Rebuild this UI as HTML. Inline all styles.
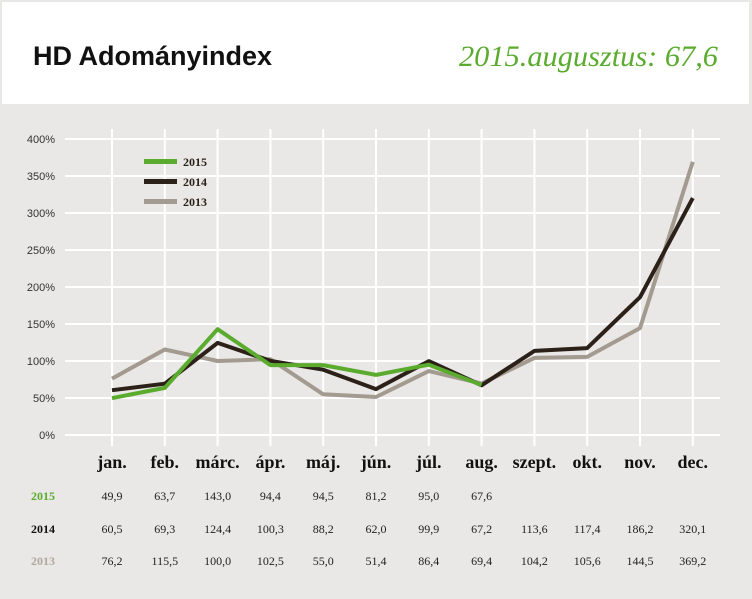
<!DOCTYPE html>
<html><head><meta charset="utf-8"><style>
html,body{margin:0;padding:0;background:#e9e8e6;}
</style></head><body>
<svg width="752" height="599" xmlns="http://www.w3.org/2000/svg" style="display:block">
<rect x="0" y="0" width="752" height="599" fill="#e9e8e6"/>
<rect x="2" y="2" width="747" height="102" fill="#fff"/>
<text x="33" y="65" font-family="Liberation Sans, sans-serif" font-size="27" font-weight="bold" fill="#111">HD Adományindex</text>
<text x="459" y="66" textLength="259" lengthAdjust="spacingAndGlyphs" font-family="Liberation Serif, serif" font-style="italic" font-size="30" fill="#5aab2e">2015.augusztus: 67,6</text>
<g stroke="#fff" stroke-width="2">
<line x1="65" x2="720" y1="139" y2="139"/><line x1="65" x2="720" y1="176" y2="176"/>
<line x1="65" x2="720" y1="213" y2="213"/><line x1="65" x2="720" y1="250" y2="250"/>
<line x1="65" x2="720" y1="287" y2="287"/><line x1="65" x2="720" y1="324" y2="324"/>
<line x1="65" x2="720" y1="361" y2="361"/><line x1="65" x2="720" y1="398" y2="398"/>
<line x1="65" x2="720" y1="435" y2="435"/>
<line x1="112" x2="112" y1="129" y2="446"/><line x1="164.8" x2="164.8" y1="129" y2="446"/>
<line x1="217.6" x2="217.6" y1="129" y2="446"/><line x1="270.4" x2="270.4" y1="129" y2="446"/>
<line x1="323.2" x2="323.2" y1="129" y2="446"/><line x1="376" x2="376" y1="129" y2="446"/>
<line x1="428.8" x2="428.8" y1="129" y2="446"/><line x1="481.6" x2="481.6" y1="129" y2="446"/>
<line x1="534.4" x2="534.4" y1="129" y2="446"/><line x1="587.2" x2="587.2" y1="129" y2="446"/>
<line x1="640" x2="640" y1="129" y2="446"/><line x1="692.8" x2="692.8" y1="129" y2="446"/>
</g>
<g font-family="Liberation Sans, sans-serif" font-size="11" fill="#333" text-anchor="end">
<text x="55" y="143">400%</text><text x="55" y="180">350%</text><text x="55" y="217">300%</text>
<text x="55" y="254">250%</text><text x="55" y="291">200%</text><text x="55" y="328">150%</text>
<text x="55" y="365">100%</text><text x="55" y="402">50%</text><text x="55" y="439">0%</text>
</g>
<g fill="none" stroke-width="4" stroke-linejoin="round">
<polyline stroke="#a39a90" points="112,378.6 164.8,349.5 217.6,361 270.4,359.2 323.2,394.3 376,397 428.8,371.1 481.6,383.6 534.4,357.9 587.2,356.9 640,328.1 692.8,161.8"/>
<polyline stroke="#2b2118" points="112,390.2 164.8,383.7 217.6,342.9 270.4,360.8 323.2,369.7 376,389.1 428.8,361.1 481.6,385.3 534.4,350.9 587.2,348.1 640,297.2 692.8,198.1"/>
<polyline stroke="#5aab2e" points="112,398.1 164.8,387.9 217.6,329.2 270.4,365.1 323.2,365.1 376,374.9 428.8,364.7 481.6,385"/>
</g>
<rect x="144" y="159" width="33" height="5" fill="#5aab2e"/>
<rect x="144" y="179" width="33" height="5" fill="#2b2118"/>
<rect x="144" y="199" width="33" height="5" fill="#a39a90"/>
<g font-family="Liberation Serif, serif" font-size="12" font-weight="bold" fill="#2b2118">
<text x="183" y="166">2015</text><text x="183" y="186">2014</text><text x="183" y="206">2013</text>
</g>
<g font-family="Liberation Serif, serif" font-size="18" font-weight="bold" fill="#111" text-anchor="middle">
<text x="112" y="468">jan.</text><text x="164.8" y="468">feb.</text><text x="217.6" y="468">márc.</text>
<text x="270.4" y="468">ápr.</text><text x="323.2" y="468">máj.</text><text x="376" y="468">jún.</text>
<text x="428.8" y="468">júl.</text><text x="481.6" y="468">aug.</text><text x="534.4" y="468">szept.</text>
<text x="587.2" y="468">okt.</text><text x="640" y="468">nov.</text><text x="692.8" y="468">dec.</text>
</g>
<g font-family="Liberation Serif, serif" font-size="12" font-weight="bold">
<text x="31" y="500" fill="#5aab2e">2015</text>
<text x="31" y="533" fill="#111">2014</text>
<text x="31" y="565" fill="#b0a79d">2013</text>
</g>
<g font-family="Liberation Serif, serif" font-size="12" fill="#222" text-anchor="middle">
<text x="112" y="500">49,9</text><text x="164.8" y="500">63,7</text><text x="217.6" y="500">143,0</text><text x="270.4" y="500">94,4</text><text x="323.2" y="500">94,5</text><text x="376" y="500">81,2</text><text x="428.8" y="500">95,0</text><text x="481.6" y="500">67,6</text>
<text x="112" y="533">60,5</text><text x="164.8" y="533">69,3</text><text x="217.6" y="533">124,4</text><text x="270.4" y="533">100,3</text><text x="323.2" y="533">88,2</text><text x="376" y="533">62,0</text><text x="428.8" y="533">99,9</text><text x="481.6" y="533">67,2</text><text x="534.4" y="533">113,6</text><text x="587.2" y="533">117,4</text><text x="640" y="533">186,2</text><text x="692.8" y="533">320,1</text>
<text x="112" y="565">76,2</text><text x="164.8" y="565">115,5</text><text x="217.6" y="565">100,0</text><text x="270.4" y="565">102,5</text><text x="323.2" y="565">55,0</text><text x="376" y="565">51,4</text><text x="428.8" y="565">86,4</text><text x="481.6" y="565">69,4</text><text x="534.4" y="565">104,2</text><text x="587.2" y="565">105,6</text><text x="640" y="565">144,5</text><text x="692.8" y="565">369,2</text>
</g>
</svg>
</body></html>
